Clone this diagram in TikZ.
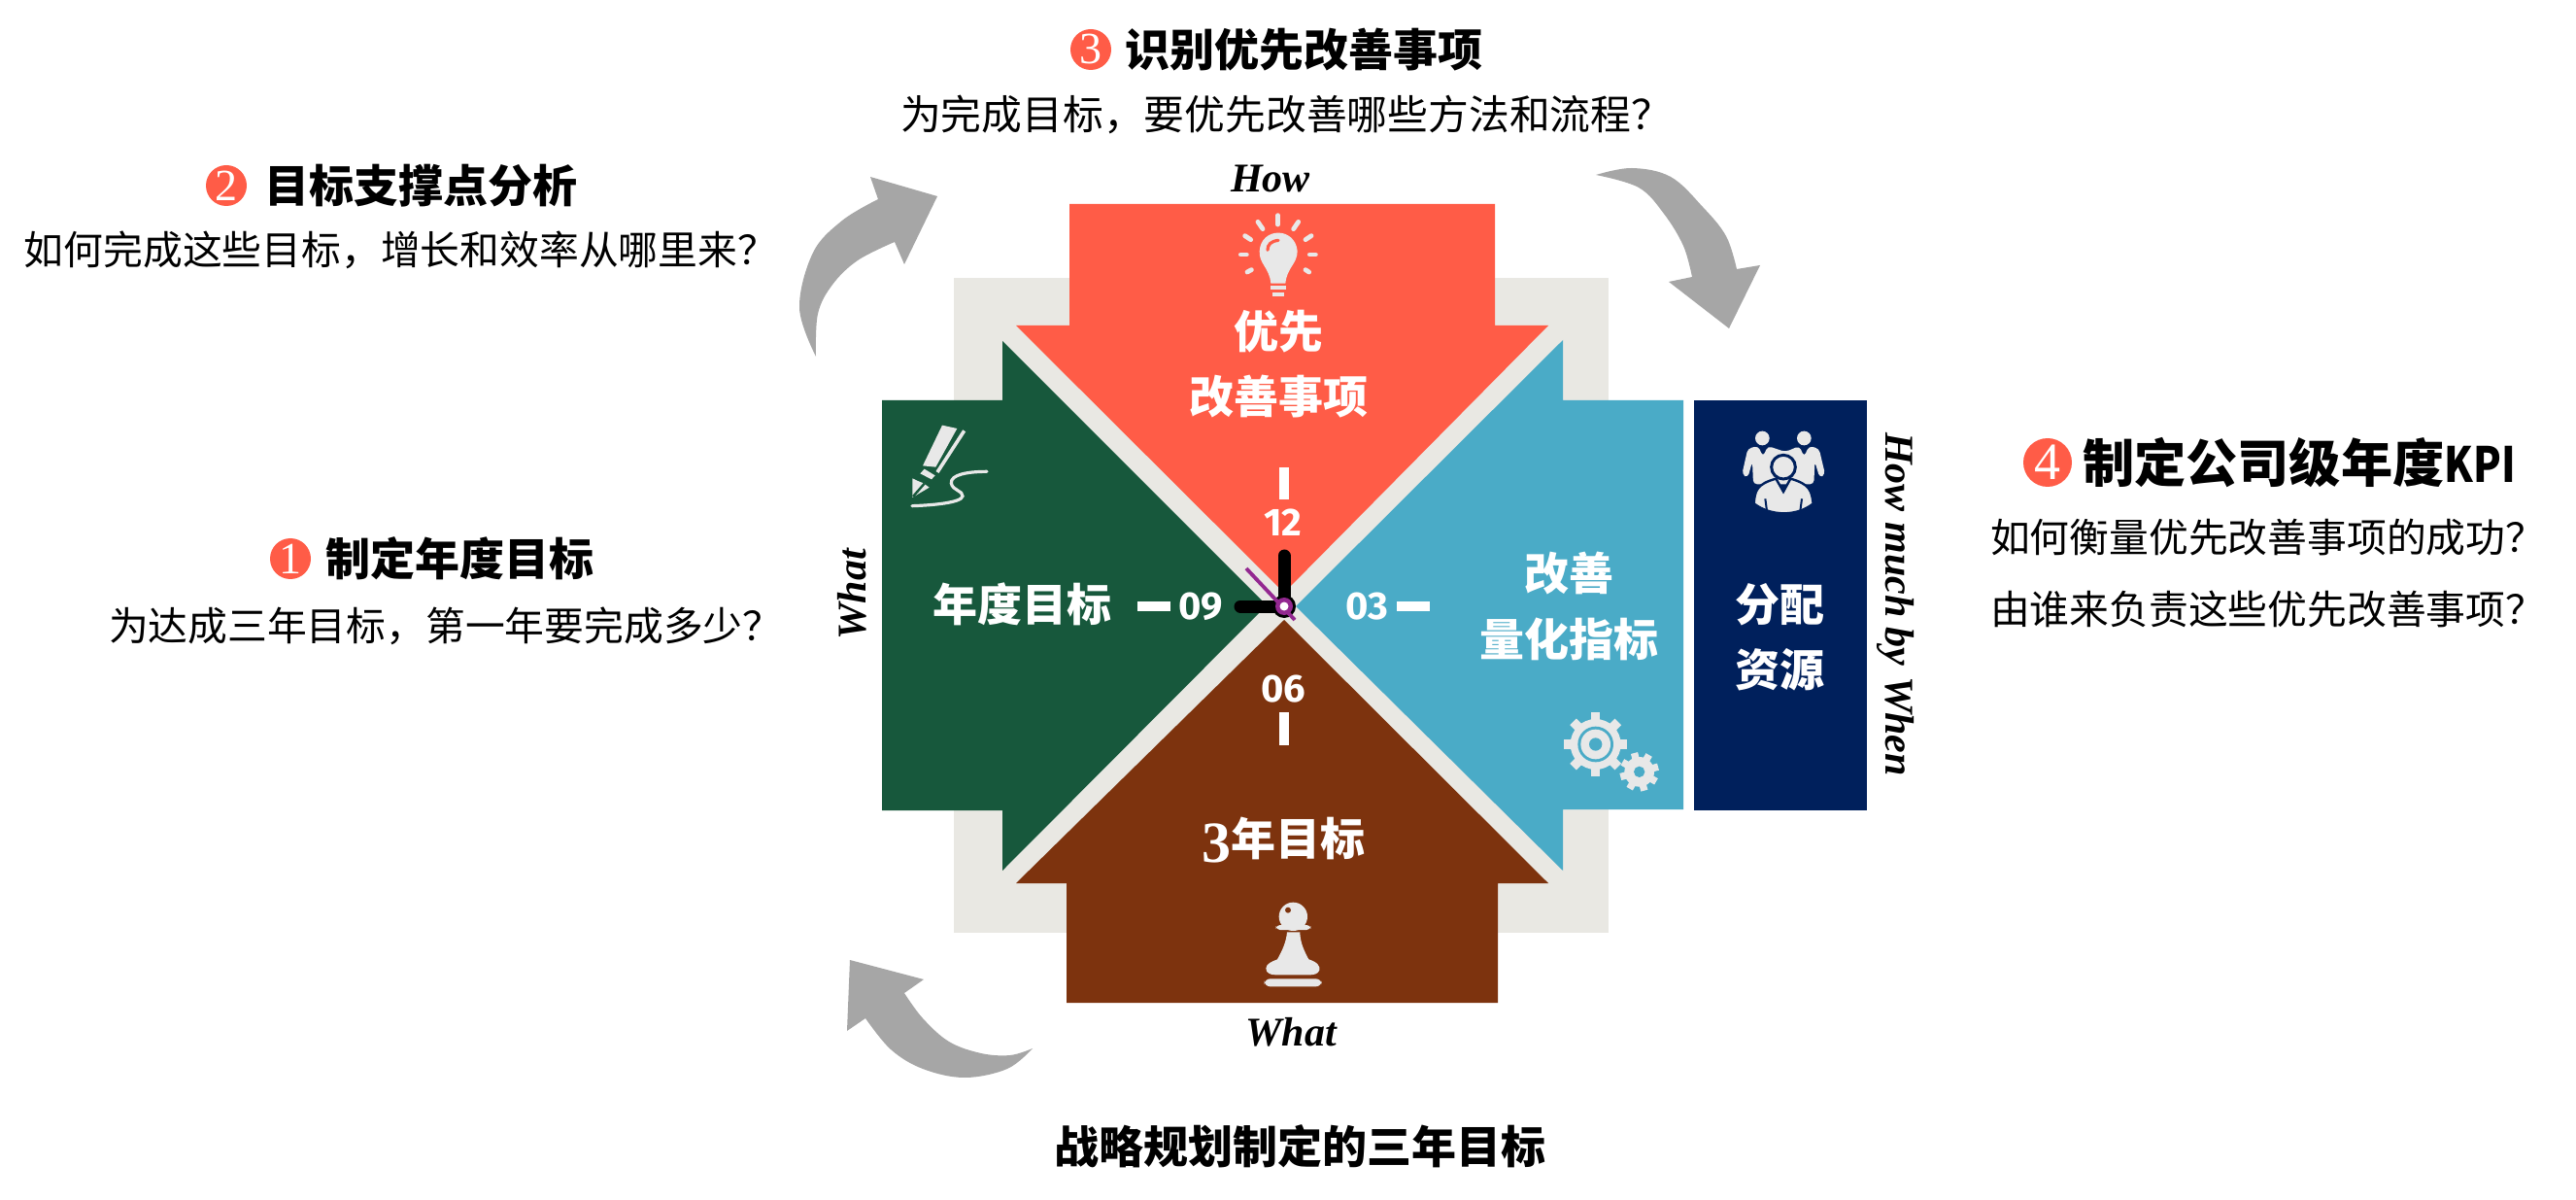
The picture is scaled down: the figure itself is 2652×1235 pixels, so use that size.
\documentclass[tikz,border=0pt]{standalone}
\usepackage{fontspec}
\newfontfamily\cjk{Noto Sans CJK SC}
\newfontfamily\ser{Liberation Serif}
\newfontfamily\dig{Fira Sans}
\definecolor{cred}{HTML}{FF5C47}
\definecolor{cgreen}{HTML}{17583C}
\definecolor{cblue}{HTML}{4AABC7}
\definecolor{cbrown}{HTML}{7D330E}
\definecolor{cnavy}{HTML}{00205C}
\definecolor{cbeige}{HTML}{E9E8E3}
\definecolor{carrow}{HTML}{A6A6A6}
\definecolor{cicon}{HTML}{E8E8E8}
\definecolor{cpurple}{HTML}{932890}
\tikzset{
 every node/.style={inner sep=0pt,outer sep=0pt},
 headtxt/.style={font=\cjk\bfseries\fontsize{23}{23}\selectfont,text=black},
 subtxt/.style={font=\cjk\fontsize{20.4}{20.4}\selectfont,text=black},
 inner/.style={font=\cjk\bfseries\fontsize{23}{23}\selectfont,text=white},
 badge/.style={circle,fill=cred,minimum size=21pt,font=\ser\fontsize{23}{23}\selectfont,text=white},
 clocknum/.style={font=\dig\bfseries\fontsize{20}{20}\selectfont,text=white},
 wordtxt/.style={font=\ser\bfseries\itshape\fontsize{21}{21}\selectfont,text=black},
 tick/.style={fill=white},
 hand/.style={line width=6.5pt,line cap=round,draw=black},
 bigarrow/.style={fill=carrow},
 icon/.style={fill=cicon},
 iconline/.style={draw=cicon,line cap=round},
}
\begin{document}
\begin{tikzpicture}[x=0.5pt,y=-0.5pt]
\useasboundingbox (0,0) rectangle (2652,1235);
\fill[white] (0,0) rectangle (2652,1235);
% background square
\fill[cbeige] (982,286) rectangle (1656,960);
% four block arrows
\fill[cred] (1101,210) -- (1539,210) -- (1539,335) -- (1594,335) -- (1322,610) -- (1046,335) -- (1101,335) -- cycle;
\fill[cgreen] (908,412) -- (1032,412) -- (1032,351) -- (1304,623) -- (1032,896) -- (1032,834) -- (908,834) -- cycle;
\fill[cblue] (1733,412) -- (1609,412) -- (1609,350) -- (1334,624) -- (1609,896) -- (1609,833) -- (1733,833) -- cycle;
\fill[cbrown] (1098,1032) -- (1542,1032) -- (1542,909) -- (1594,909) -- (1322,638) -- (1046,909) -- (1098,909) -- cycle;
\fill[cnavy] (1744,412) rectangle (1922,834);
% curved arrows
\fill[bigarrow] plot[smooth,tension=0.6] coordinates {(840,367) (823,317) (837,260) (867,227) (904,205)} -- (896,182) -- (965,202) -- (931,272) -- (921,249) -- plot[smooth,tension=0.6] coordinates {(921,249) (883,268) (857,293) (842,323) (840,367)} -- cycle;
\fill[bigarrow] plot[smooth,tension=0.6] coordinates {(1643,180) (1680,173) (1720,182) (1753,213) (1777,243) (1788,277)} -- (1812,273) -- (1780,338) -- (1718,290) -- (1742,285) -- plot[smooth,tension=0.6] coordinates {(1742,285) (1733,253) (1713,220) (1687,193) (1643,180)} -- cycle;
\fill[bigarrow] plot[smooth,tension=0.6] coordinates {(1063,1079) (1037,1100) (993,1109) (950,1100) (917,1080) (891,1048)} -- (872,1061) -- (875,988) -- (951,1008) -- (931,1022) -- plot[smooth,tension=0.6] coordinates {(931,1022) (950,1048) (977,1072) (1010,1084) (1040,1086) (1063,1079)} -- cycle;
% clock ticks and numbers
\fill[tick] (1317,481) rectangle (1327,514);
\fill[tick] (1171,619) rectangle (1205,629);
\fill[tick] (1438,619) rectangle (1472,629);
\fill[tick] (1317,733) rectangle (1327,767);
\node[clocknum] (n12) at (1321,538) {12};
\node[clocknum] (n09) at (1236,624) {09};
\node[clocknum] (n03) at (1407,624) {03};
\node[clocknum] (n06) at (1321,709) {06};
% hands
\draw[hand] (1322,624) -- (1322,572);
\draw[hand] (1322,624) -- (1277,624);
\fill[black] (1322,624) circle (12);
\draw[cpurple,line width=1.9pt] (1283,585) -- (1333,638);
\fill[cpurple] (1322,624) circle (9);
\fill[white] (1322,624) circle (4.5);
% inner labels
\node[inner] (a1) at (1316,341) {优先};
\node[inner] (a2) at (1316,408) {改善事项};
\node[inner] (b1) at (1052,622) {年度目标};
\node[inner] (c1) at (1615,590) {改善};
\node[inner] (c2) at (1615,658) {量化指标};
\node[inner] (d1) at (1832,622) {分配};
\node[inner] (d2) at (1832,689) {资源};
\node[inner] (e1) at (1321,865) {{\ser\bfseries\fontsize{30}{30}\selectfont\raisebox{-3.5pt}{3}}年目标};
% side words
\node[wordtxt] (w1) at (1308,184) {How};
\node[wordtxt] (w2) at (1329,1062) {What};
\node[wordtxt,rotate=90] (w3) at (877,612) {What};
\node[wordtxt,rotate=-90] (w4) at (1952,622) {How much by When};
% outer text
\node[badge] (b2) at (233,191) {2};
\node[headtxt,anchor=west] (t2) at (272,191) {目标支撑点分析};
\node[subtxt,anchor=west] (s2) at (25,257) {如何完成这些目标，增长和效率从哪里来？};
\node[badge] (b3) at (1123,51) {3};
\node[headtxt,anchor=west] (t3) at (1158,51) {识别优先改善事项};
\node[subtxt,font=\cjk\fontsize{20.9}{20.9}\selectfont,anchor=west] (s3) at (927,118) {为完成目标，要优先改善哪些方法和流程？};
\node[badge] (b1b) at (299,575) {1};
\node[headtxt,anchor=west] (t1) at (335,575) {制定年度目标};
\node[subtxt,anchor=west] (s1) at (112,644) {为达成三年目标，第一年要完成多少？};
\node[badge,minimum size=25pt,font=\ser\fontsize{27}{27}\selectfont] (b4) at (2108,476) {4};
\node[headtxt,font=\cjk\bfseries\fontsize{26.6}{26.6}\selectfont,anchor=west] (t4) at (2144,476) {制定公司级年度\scalebox{0.84}[1]{\fontsize{25}{25}\selectfont KPI}};
\node[subtxt,anchor=west] (s4a) at (2049,553) {如何衡量优先改善事项的成功？};
\node[subtxt,anchor=west] (s4b) at (2049,627) {由谁来负责这些优先改善事项？};
\node[headtxt] (t0) at (1338,1180) {战略规划制定的三年目标};
% bulb icon
\begin{scope}[shift={(1230,200)},x=0.16667pt,y=-0.16667pt]
 \fill[icon] (200,175) .. controls (205,100) and (310,100) .. (317,175) .. controls (317,215) and (285,225) .. (280,275) -- (235,275) .. controls (230,225) and (198,215) .. (200,175) -- cycle;
 \fill[icon] (235,283) rectangle (282,293);
 \fill[icon] (240,303) rectangle (275,315);
 \draw[cred,line width=1.6pt,line cap=round] (225,172) .. controls (225,155) and (235,145) .. (258,142);
 \foreach \xa/\ya/\xb/\yb in {257/65/257/93, 195/85/210/107, 320/85/305/107, 155/128/173/140, 360/128/342/140, 142/186/160/186, 355/186/373/186, 162/240/175/233, 353/240/342/233}
  \draw[iconline,line width=2.4pt] (\xa,\ya) -- (\xb,\yb);
\end{scope}
% pen icon
\begin{scope}[shift={(910,410)},x=0.16667pt,y=-0.16667pt]
 \fill[icon] (180,83) -- (226,93) -- (160,212) -- (120,208) -- cycle;
 \draw[iconline,line width=1.8pt,line cap=butt] (248,100) -- (165,228);
 \fill[icon] (125,218) -- (158,238) -- (147,250) -- (112,232) -- cycle;
 \fill[icon] (88,247) -- (105,255) -- (122,262) -- (140,275) -- (88,306) -- cycle;
 \draw[cgreen,line width=1.2pt] (90,303) -- (125,263);
 \draw[iconline,line width=1.6pt] (318,226) .. controls (260,226) and (205,235) .. (208,262) .. controls (212,285) and (245,285) .. (243,302) .. controls (240,322) and (150,330) .. (87,332);
\end{scope}
% gears icon
\begin{scope}[shift={(1580,710)},x=0.16667pt,y=-0.16667pt]
 \foreach \a in {0,45,...,315} \fill[icon,rotate around={\a:(188,168)}] (174,70) rectangle (202,110);
 \fill[icon] (188,168) circle (78);
 \fill[cblue] (188,168) circle (55);
 \fill[icon] (188,168) circle (46);
 \fill[cblue] (188,168) circle (20);
 \foreach \a in {15,60,...,330} \fill[icon,rotate around={\a:(323,253)}] (312,193) rectangle (334,225);
 \fill[icon] (323,253) circle (46);
 \fill[cblue] (323,253) circle (17);
\end{scope}
% people icon
\begin{scope}[shift={(1760,420)},x=0.16667pt,y=-0.16667pt]
 \fill[icon] (163,93) circle (22);
 \fill[icon] (292,93) circle (22);
 \fill[icon,rounded corners=2pt] (100,205) -- (118,125) -- (150,117) -- (165,150) -- (180,117) -- (218,130) -- (235,135) -- (277,117) -- (292,150) -- (307,117) -- (338,125) -- (357,205) -- (340,215) -- (325,165) -- (322,235) -- (135,235) -- (132,165) -- (118,215) -- cycle;
 \draw[cnavy,line width=1.5pt,fill=cicon] (228,182) circle (37);
 \draw[cnavy,line width=1.2pt,fill=cicon] (137,295) .. controls (140,255) and (145,235) .. (205,218) -- (228,258) -- (250,218) .. controls (310,235) and (315,255) .. (320,295) .. controls (270,335) and (190,335) .. (137,295) -- cycle;
 \draw[cnavy,line width=1pt] (172,280) -- (178,325) (285,280) -- (279,325);
\end{scope}
% pawn icon
\begin{scope}[shift={(1270,900)},x=0.16667pt,y=-0.16667pt]
 \fill[icon] (184,130) circle (44);
 \fill[cbrown] (168,110) circle (9);
 \fill[icon,rounded corners=2pt] (131,156) rectangle (238,171);
 \fill[icon] (165,178) -- (205,178) .. controls (205,210) and (220,240) .. (232,262) .. controls (260,270) and (268,285) .. (265,295) .. controls (262,308) and (245,310) .. (235,310) -- (130,310) .. controls (115,310) and (100,305) .. (100,290) .. controls (100,275) and (120,268) .. (135,262) .. controls (150,235) and (162,210) .. (165,178) -- cycle;
 \fill[icon,rounded corners=3pt] (95,322) rectangle (272,346);
\end{scope}
\end{tikzpicture}
\end{document}
